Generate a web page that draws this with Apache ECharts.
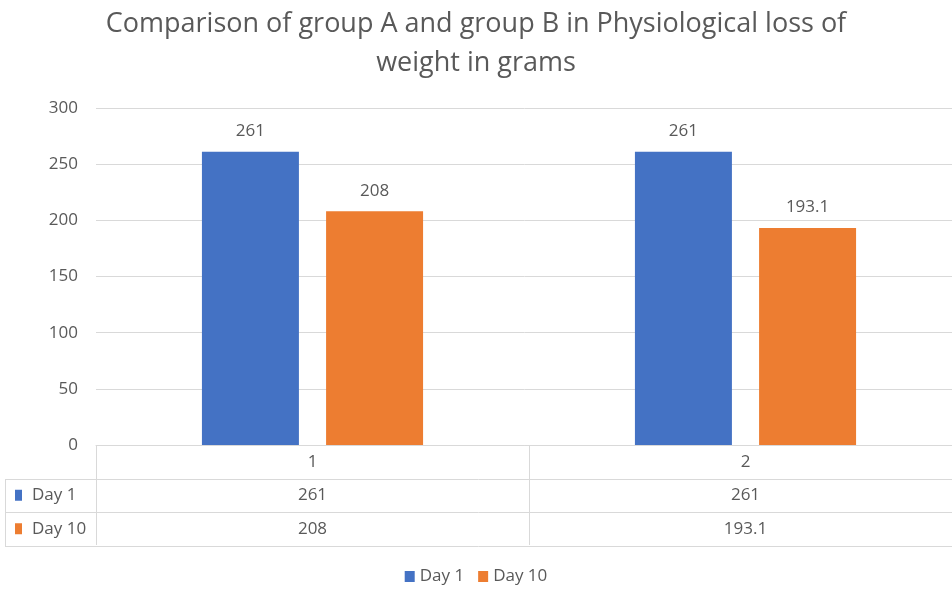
<!DOCTYPE html>
<html>
<head>
<meta charset="utf-8">
<script src="https://cdn.jsdelivr.net/npm/echarts@6/dist/echarts.min.js"></script>
<style>
html,body{margin:0;padding:0;background:#fff;}
#main{width:952px;height:589px;}
</style>
</head>
<body>
<div id="main"></div>
<script>
var titleText = 'Comparison of group A and group B in Physiological loss of\nweight in grams';
var categories = ['1', '2'];
var seriesNames = ['Day 1', 'Day 10'];
var day1 = [261, 261];
var day10 = [208, 193.1];
var seriesColors = ['#4472C4', '#ED7D31'];
var yTicks = [0, 50, 100, 150, 200, 250, 300];

var FONT = "'Open Sans', sans-serif";
var TXT = '#595959';
var LINE = '#d9d9d9';
var FS = 17;

var chart = echarts.init(document.getElementById('main'), null, {renderer: 'canvas'});
var allRows = [day1, day10];

var option = {
  animation: false,
  backgroundColor: '#fff',
  textStyle: {fontFamily: FONT},
  title: {
    text: titleText,
    left: 'center',
    top: 0,
    textStyle: {fontFamily: FONT, fontSize: 27, fontWeight: 'normal', color: TXT, lineHeight: 39}
  },
  legend: {
    bottom: -1,
    left: 'center',
    icon: 'rect',
    itemWidth: 10,
    itemHeight: 11,
    itemGap: 14,
    data: seriesNames,
    textStyle: {fontFamily: FONT, fontSize: FS, color: TXT}
  },
  grid: {left: 96, width: 866, top: 108, bottom: 144, containLabel: false, outerBoundsMode: 'none'},
  xAxis: {
    type: 'category',
    data: categories,
    boundaryGap: true,
    axisLine: {show: true, lineStyle: {color: LINE, width: 1}},
    axisTick: {show: true, length: 100, interval: 0, lineStyle: {color: LINE}},
    axisLabel: {
      margin: 0,
      interval: 0,
      formatter: function (v, i) {
        var lines = ['{h|' + v + '}'];
        for (var r = 0; r < allRows.length; r++) lines.push('{h|' + allRows[r][i] + '}');
        return lines.join('\n');
      },
      rich: {h: {fontFamily: FONT, fontSize: FS, color: TXT, lineHeight: 33.5, height: 33.5}}
    }
  },
  yAxis: {
    type: 'value',
    min: 0, max: 300, interval: 50,
    axisLine: {show: false},
    axisTick: {show: false},
    axisLabel: {fontFamily: FONT, fontSize: FS, color: TXT, margin: 18},
    splitLine: {lineStyle: {color: LINE, width: 1}}
  },
  series: [
    {
      name: seriesNames[0], type: 'bar', data: day1,
      itemStyle: {color: seriesColors[0]},
      barWidth: '22.4%', barGap: '28%',
      label: {show: true, position: 'top', distance: 12, fontFamily: FONT, fontSize: FS, color: TXT}
    },
    {
      name: seriesNames[1], type: 'bar', data: day10,
      itemStyle: {color: seriesColors[1]},
      barWidth: '22.4%', barGap: '28%',
      label: {show: true, position: 'top', distance: 12, fontFamily: FONT, fontSize: FS, color: TXT}
    }
  ]
};
chart.setOption(option);

// table rows (horizontal lines + row headers) positioned from the axis
var y0 = chart.convertToPixel({yAxisIndex: 0}, 0);
var rowH = 33.5;
var leftX = 5;
var W = chart.getWidth();
var g = [];
for (var r = 1; r <= allRows.length + 1; r++) {
  var yy = Math.round(y0 + rowH * r) + 0.5;
  g.push({type: 'line', shape: {x1: leftX, y1: yy, x2: W, y2: yy}, style: {stroke: LINE, lineWidth: 1}, silent: true});
}
g.push({type: 'line', shape: {x1: leftX + 0.5, y1: Math.round(y0 + rowH) + 0.5, x2: leftX + 0.5, y2: Math.round(y0 + rowH * (allRows.length + 1)) + 0.5}, style: {stroke: LINE, lineWidth: 1}, silent: true});
for (var k = 0; k < seriesNames.length; k++) {
  var cy = y0 + rowH * (k + 1) + rowH / 2;
  g.push({type: 'rect', shape: {x: 15, y: cy - 5.5, width: 7, height: 11}, style: {fill: seriesColors[k]}, silent: true});
  g.push({type: 'text', x: 32, y: cy, style: {text: seriesNames[k], fill: TXT, font: FS + 'px ' + FONT, textVerticalAlign: 'middle', verticalAlign: 'middle'}, silent: true});
}
chart.setOption({graphic: g});
</script>
</body>
</html>
